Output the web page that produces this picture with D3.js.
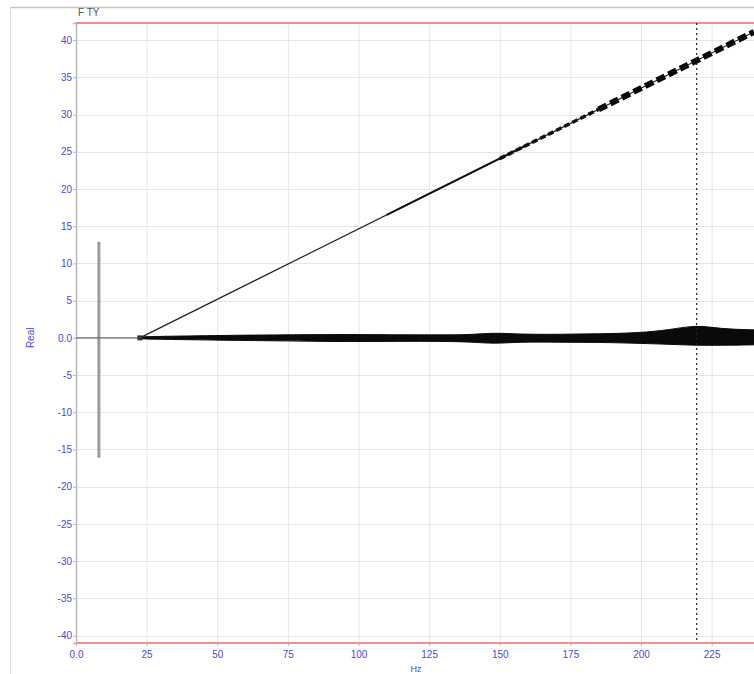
<!DOCTYPE html>
<html>
<head>
<meta charset="utf-8">
<script src="https://cdn.jsdelivr.net/npm/d3@7"></script>
<style>
  html, body { margin: 0; padding: 0; background: #fff; }
  svg { display: block; font-family: "Liberation Sans", Arial, sans-serif; }
</style>
</head>
<body>
<svg id="chart" width="754" height="674"></svg>
<script>
// Axis ticks
const xTicks = [0, 25, 50, 75, 100, 125, 150, 175, 200, 225];
const xTickLabels = ["0.0", "25", "50", "75", "100", "125", "150", "175", "200", "225"];
const yTicks = [40, 35, 30, 25, 20, 15, 10, 5, 0, -5, -10, -15, -20, -25, -30, -35, -40];
const yTickLabels = ["40", "35", "30", "25", "20", "15", "10", "5", "0.0", "-5", "-10", "-15", "-20", "-25", "-30", "-35", "-40"];

// Rising trace (start and end points)
const rampX = [22.6, 240];
const rampY = [0, 41.1];

// Oscillating trace around zero: envelope (upper / lower) along x
const bandX = [22.6, 29.7, 43.9, 54.5, 72.2, 89.8, 100.5, 114.6, 128.8, 139.4, 148.2, 157.1, 171.2, 185.4, 199.5, 210.1, 219.7, 227.8, 240];
const bandUpper = [0.13, 0.2, 0.27, 0.34, 0.4, 0.44, 0.44, 0.4, 0.4, 0.4, 0.7, 0.47, 0.47, 0.54, 0.67, 1.07, 1.74, 1.21, 1.07];
const bandLower = [-0.13, -0.2, -0.27, -0.34, -0.4, -0.5, -0.5, -0.47, -0.47, -0.54, -0.8, -0.54, -0.6, -0.6, -0.74, -0.87, -1.01, -1.01, -0.94];

// Baseline at zero before the traces start
const baseX = [0, 22.6];
const baseY = [0, 0];

// Vertical marker bar
const barX = 8.1;
const barY = [12.9, -16.1];

// Cursor position
const cursorX = 219.7;

// Limits of both axes
const yLimits = [-41, 42.3];
const xLimits = [0, 240];

const svg = d3.select("#chart");
const plotLeft = 76, plotRight = 754, plotTop = 23, plotBottom = 643;

const x = d3.scaleLinear().domain(xLimits).range([plotLeft, plotRight]);
const y = d3.scaleLinear().domain(yLimits).range([plotBottom, plotTop]);

const blue = "#4a4ad6";

// outer frame
svg.append("line").attr("x1", 10).attr("x2", 754).attr("y1", 7.5).attr("y2", 7.5)
  .attr("stroke", "#c4c4c4").attr("stroke-width", 1.5);
svg.append("line").attr("x1", 10.5).attr("x2", 10.5).attr("y1", 7).attr("y2", 674)
  .attr("stroke", "#dddddd").attr("stroke-width", 1);

// grid
const grid = svg.append("g");
grid.selectAll("line.v").data(xTicks.filter(d => d > 0)).join("line")
  .attr("x1", d => x(d) + 0.5).attr("x2", d => x(d) + 0.5)
  .attr("y1", plotTop).attr("y2", plotBottom)
  .attr("stroke", "#e6e6e6").attr("stroke-width", 1);
grid.selectAll("line.h").data(yTicks).join("line")
  .attr("x1", plotLeft).attr("x2", plotRight)
  .attr("y1", d => Math.round(y(d)) + 0.5).attr("y2", d => Math.round(y(d)) + 0.5)
  .attr("stroke", "#e6e6e6").attr("stroke-width", 1);

// y axis
const yAxis = d3.axisLeft(y).tickValues(yTicks).tickSize(3)
  .tickFormat((d, i) => yTickLabels[i]);
const gy = svg.append("g").attr("transform", `translate(${plotLeft},0)`).call(yAxis);
gy.select(".domain").attr("stroke", "#b8b8b8").attr("stroke-width", 1.5);
gy.selectAll(".tick line").attr("stroke", "#b8b8b8");
gy.selectAll(".tick text").attr("fill", blue).attr("font-size", 10)
  .attr("font-family", "'Liberation Sans', Arial, sans-serif").attr("x", -4);

// x axis
const xAxis = d3.axisBottom(x).tickValues(xTicks).tickSize(3)
  .tickFormat((d, i) => xTickLabels[i]);
const gx = svg.append("g").attr("transform", `translate(0,${plotBottom})`).call(xAxis);
gx.select(".domain").remove();
gx.selectAll(".tick line").attr("stroke", "#b8b8b8");
gx.selectAll(".tick text").attr("fill", blue).attr("font-size", 10)
  .attr("font-family", "'Liberation Sans', Arial, sans-serif").attr("y", 8);

// limit lines top and bottom
[yLimits[1], yLimits[0]].forEach(v => {
  svg.append("line").attr("x1", plotLeft).attr("x2", plotRight)
    .attr("y1", y(v)).attr("y2", y(v))
    .attr("stroke", "#ee8f8f").attr("stroke-width", 2.2);
});

// titles
svg.append("text").attr("x", 78).attr("y", 16).attr("font-size", 10)
  .attr("fill", "#555").text("F TY");
svg.append("text").attr("transform", `translate(34,${y(0)}) rotate(-90)`)
  .attr("text-anchor", "middle").attr("font-size", 10).attr("fill", blue).text("Real");
svg.append("text").attr("x", 416).attr("y", 672).attr("text-anchor", "middle")
  .attr("font-size", 9).attr("fill", blue).text("Hz");

// marker bar
svg.append("line").attr("x1", x(barX)).attr("x2", x(barX))
  .attr("y1", y(barY[0])).attr("y2", y(barY[1]))
  .attr("stroke", "#9a9a9a").attr("stroke-width", 3);

// baseline
const line = d3.line().x(d => x(d[0])).y(d => y(d[1]));
svg.append("path").attr("d", line(baseX.map((d, i) => [d, baseY[i]])))
  .attr("fill", "none").attr("stroke", "#6a6a6a").attr("stroke-width", 1.4);

// oscillating band
const area = d3.area()
  .x((d, i) => x(bandX[i]))
  .y0((d, i) => y(bandLower[i]))
  .y1((d, i) => y(bandUpper[i]))
  .curve(d3.curveBasis);
svg.append("path").attr("d", area(bandX))
  .attr("fill", "#0a0a0a").attr("stroke", "#0a0a0a").attr("stroke-width", 1);

// rising trace: thin line which gets heavier towards the upper end
const rampScale = d3.scaleLinear().domain(rampX).range(rampY);
const seg = (a, b) => [[a, rampScale(a)], [b, rampScale(b)]];
svg.append("path").attr("d", line(seg(rampX[0], rampX[1])))
  .attr("fill", "none").attr("stroke", "#222").attr("stroke-width", 1.2);
svg.append("path").attr("d", line(seg(110, 160)))
  .attr("fill", "none").attr("stroke", "#111").attr("stroke-width", 2);
svg.append("path").attr("d", line(seg(150, 185)))
  .attr("fill", "none").attr("stroke", "#111").attr("stroke-width", 3.5)
  .attr("stroke-dasharray", "6,3");
svg.append("path").attr("d", line(seg(185, rampX[1])))
  .attr("fill", "none").attr("stroke", "#080808").attr("stroke-width", 6)
  .attr("stroke-dasharray", "9,4");

// start marker
svg.append("rect").attr("x", x(rampX[0]) - 2.5).attr("y", y(rampY[0]) - 2.5)
  .attr("width", 5).attr("height", 5).attr("fill", "#333");

// cursor
svg.append("line").attr("x1", x(cursorX)).attr("x2", x(cursorX))
  .attr("y1", plotTop).attr("y2", plotBottom)
  .attr("stroke", "#222").attr("stroke-width", 1.2).attr("stroke-dasharray", "2,3");
</script>
</body>
</html>
